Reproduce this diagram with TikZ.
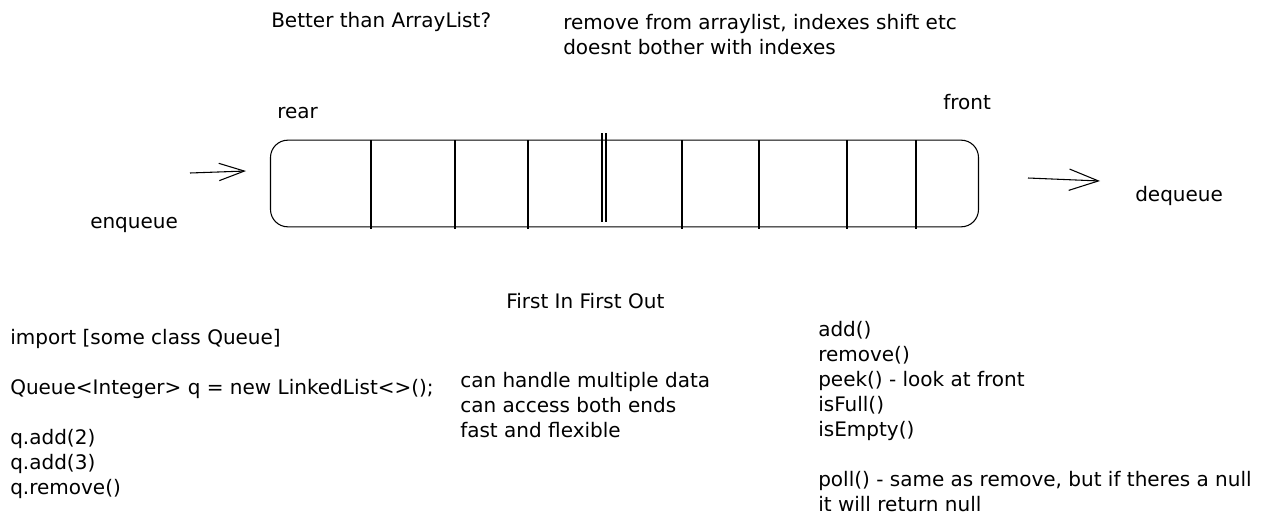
\documentclass[tikz,border=0pt]{standalone}
\usepackage{fontspec}
\setmainfont{DejaVu Sans}
\usetikzlibrary{arrows.meta}
\begin{document}
\begin{tikzpicture}[x=0.75pt,y=-0.75pt,
  txt/.style={anchor=west,inner sep=0pt,font=\fontsize{15}{18.75}\selectfont,align=left},
  qbox/.style={draw,line width=0.8pt,rounded corners=13pt,minimum width=531pt,minimum height=65pt,inner sep=0pt},
  divider/.style={line width=0.8pt},
  flowA/.style={line width=0.8pt,-{Straight Barb[length=19pt,width=13pt,line width=0.8pt]}},
  flowB/.style={line width=0.8pt,-{Straight Barb[length=22pt,width=16pt,line width=0.8pt]}}]
\useasboundingbox[fill=white] (0,0) rectangle (1268,532);
% queue body
\node[qbox] (q) at (624.5,183.5) {};
\foreach \xx/\i in {371/1,455/2,528/3,682/5,759/6,847/7,916/8}{
  \coordinate (t\i) at (\xx,140);
  \coordinate (b\i) at (\xx,229);
  \draw[divider] (t\i) -- (b\i);
}
\coordinate (t4a) at (602,133); \coordinate (b4a) at (602,222);
\coordinate (t4b) at (606,133); \coordinate (b4b) at (606,222);
\draw[divider] (t4a) -- (b4a);
\draw[divider] (t4b) -- (b4b);
% arrows
\coordinate (inS) at (190,173); \coordinate (inE) at (246,171);
\draw[flowA] (inS) -- (inE);
\coordinate (outS) at (1028,178); \coordinate (outE) at (1100,181);
\draw[flowB] (outS) -- (outE);
% labels
\node[txt] (better) at (271,22) {Better than ArrayList?};
\node[txt] (remark) at (563,34.5) {remove from arraylist, indexes shift etc\\doesnt bother with indexes};
\node[txt] (rear) at (277,113) {rear};
\node[txt] (front) at (943,102) {front};
\node[txt] (enq) at (90,225) {enqueue};
\node[txt] (deq) at (1135,196) {dequeue};
\node[txt] (fifo) at (506,301) {First In First Out};
\node[txt,anchor=north west] (code) at (10,329) {import [some class Queue]\\[\baselineskip]Queue<Integer> q = new LinkedList<>();\\[\baselineskip]q.add(2)\\q.add(3)\\q.remove()};
\node[txt,anchor=north west] (pros) at (460,372) {can handle multiple data\\can access both ends\\fast and flexible};
\node[txt,anchor=north west] (methods) at (818,321) {add()\\remove()\\peek() - look at front\\isFull()\\isEmpty()\\[\baselineskip]poll() - same as remove, but if theres a null\\it will return null};
\end{tikzpicture}
\end{document}
